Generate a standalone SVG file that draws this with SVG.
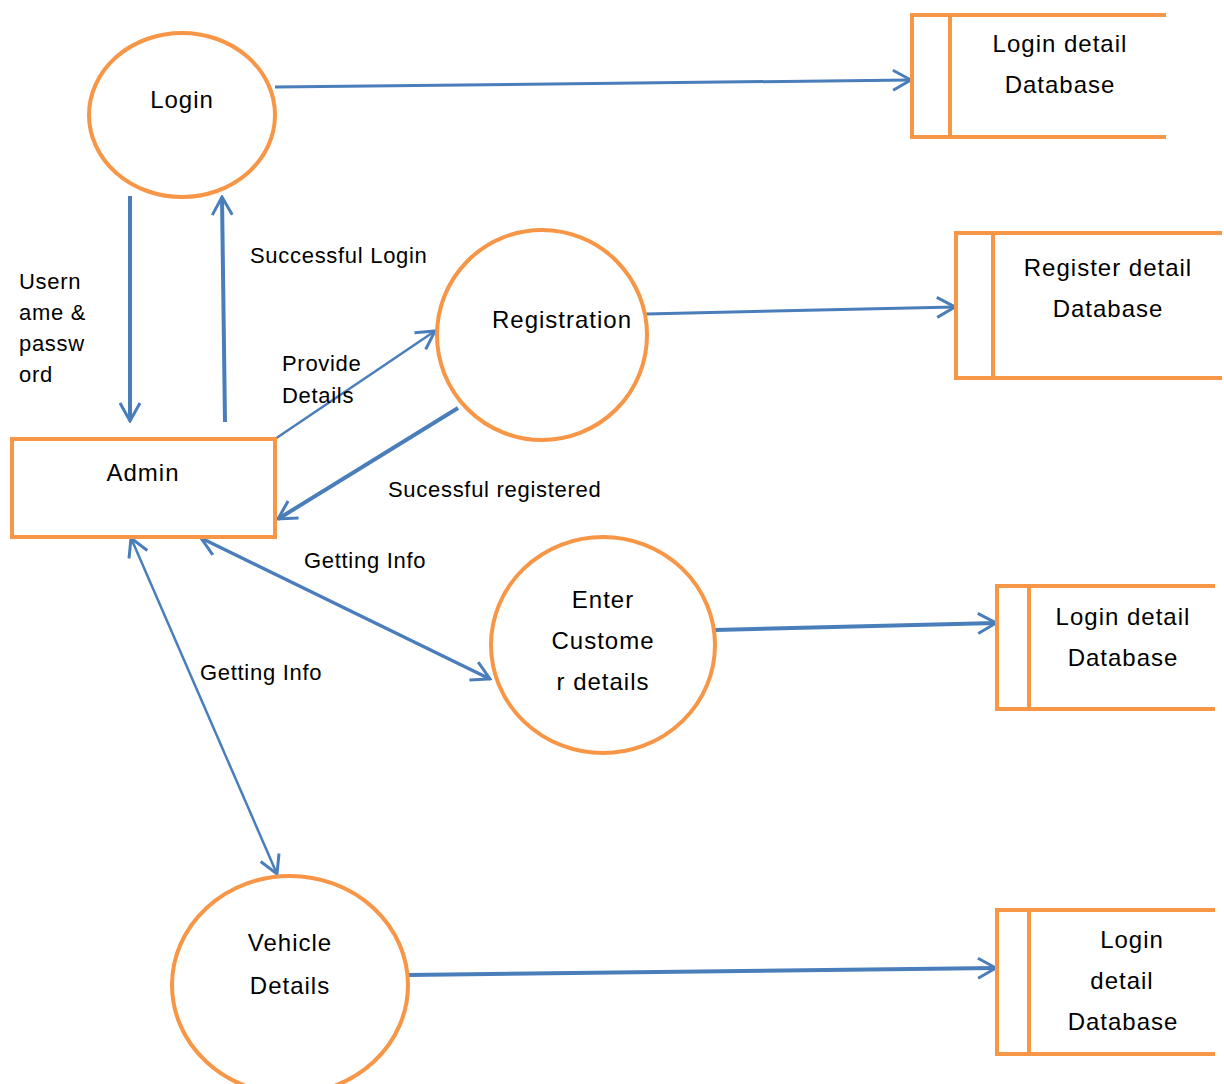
<svg xmlns="http://www.w3.org/2000/svg" width="1224" height="1084" viewBox="0 0 1224 1084">
<defs>
<style>
.shape{fill:none;stroke:#F79646;stroke-width:4}
.store{fill:none;stroke:#F79646;stroke-width:4}
.flow{fill:none;stroke:#4A7EBB}
.t{font-family:"Liberation Sans",Arial,sans-serif;fill:#000}
.lbl{font-size:22px;letter-spacing:0.7px}
.nd{font-size:24px;letter-spacing:1px}
</style>
<marker id="ah" viewBox="0 0 24 24" refX="22" refY="12" markerWidth="24" markerHeight="24" markerUnits="userSpaceOnUse" orient="auto-start-reverse">
<path d="M4,2 L22,12 L4,22" fill="none" stroke="#4A7EBB" stroke-width="3"/>
</marker>
</defs>
<rect width="1224" height="1084" fill="#fff"/>

<g id="connectors">
<line class="flow" stroke-width="3" x1="275" y1="87" x2="911" y2="80" marker-end="url(#ah)"/>
<line class="flow" stroke-width="4" x1="130" y1="196" x2="130" y2="421" marker-end="url(#ah)"/>
<line class="flow" stroke-width="4" x1="225" y1="422" x2="222" y2="197" marker-end="url(#ah)"/>
<line class="flow" stroke-width="2.5" x1="275" y1="439" x2="435" y2="331" marker-end="url(#ah)"/>
<line class="flow" stroke-width="4" x1="458" y1="408" x2="278" y2="519" marker-end="url(#ah)"/>
<line class="flow" stroke-width="3" x1="646" y1="314" x2="955" y2="307" marker-end="url(#ah)"/>
<line class="flow" stroke-width="3.5" x1="201" y1="538" x2="490" y2="679" marker-start="url(#ah)" marker-end="url(#ah)"/>
<line class="flow" stroke-width="2.5" x1="131" y1="538" x2="277" y2="874" marker-start="url(#ah)" marker-end="url(#ah)"/>
<line class="flow" stroke-width="4" x1="715" y1="630" x2="996" y2="623" marker-end="url(#ah)"/>
<line class="flow" stroke-width="4" x1="408" y1="975" x2="996" y2="968" marker-end="url(#ah)"/>
</g>

<g id="login">
<ellipse class="shape" cx="182" cy="115" rx="93" ry="82"/>
<text class="t nd" x="182" y="108" text-anchor="middle">Login</text>
</g>

<g id="admin">
<rect class="shape" x="12" y="439" width="263" height="98"/>
<text class="t nd" x="143" y="481" text-anchor="middle">Admin</text>
</g>

<g id="registration">
<ellipse class="shape" cx="542" cy="335" rx="105" ry="105"/>
<text class="t nd" x="562" y="328" text-anchor="middle">Registration</text>
</g>

<g id="enter-customer">
<ellipse class="shape" cx="603" cy="645" rx="112" ry="108"/>
<text class="t nd" x="603" y="608" text-anchor="middle">Enter</text>
<text class="t nd" x="603" y="649" text-anchor="middle">Custome</text>
<text class="t nd" x="603" y="690" text-anchor="middle">r details</text>
</g>

<g id="vehicle">
<ellipse class="shape" cx="290" cy="985" rx="118" ry="109"/>
<text class="t nd" x="290" y="951" text-anchor="middle">Vehicle</text>
<text class="t nd" x="290" y="994" text-anchor="middle">Details</text>
</g>

<g id="store-login">
<path class="store" d="M1166,15 H912 V137 H1166 M950,15 V137"/>
<text class="t nd" x="1060" y="52" text-anchor="middle">Login detail</text>
<text class="t nd" x="1060" y="93" text-anchor="middle">Database</text>
</g>

<g id="store-register">
<path class="store" d="M1222,233 H956 V378 H1222 M993,233 V378"/>
<text class="t nd" x="1108" y="276" text-anchor="middle">Register detail</text>
<text class="t nd" x="1108" y="317" text-anchor="middle">Database</text>
</g>

<g id="store-customer">
<path class="store" d="M1215,586 H997 V709 H1215 M1029,586 V709"/>
<text class="t nd" x="1123" y="625" text-anchor="middle">Login detail</text>
<text class="t nd" x="1123" y="666" text-anchor="middle">Database</text>
</g>

<g id="store-vehicle">
<path class="store" d="M1215,910 H997 V1054 H1215 M1029,910 V1054"/>
<text class="t nd" x="1132" y="948" text-anchor="middle">Login</text>
<text class="t nd" x="1122" y="989" text-anchor="middle">detail</text>
<text class="t nd" x="1123" y="1030" text-anchor="middle">Database</text>
</g>

<g id="labels">
<text class="t lbl" x="250" y="263">Successful Login</text>
<text class="t lbl" x="19" y="289">Usern</text>
<text class="t lbl" x="19" y="320">ame &amp;</text>
<text class="t lbl" x="19" y="351">passw</text>
<text class="t lbl" x="19" y="382">ord</text>
<text class="t lbl" x="282" y="371">Provide</text>
<text class="t lbl" x="282" y="403">Details</text>
<text class="t lbl" x="388" y="497">Sucessful registered</text>
<text class="t lbl" x="304" y="568">Getting Info</text>
<text class="t lbl" x="200" y="680">Getting Info</text>
</g>
</svg>
